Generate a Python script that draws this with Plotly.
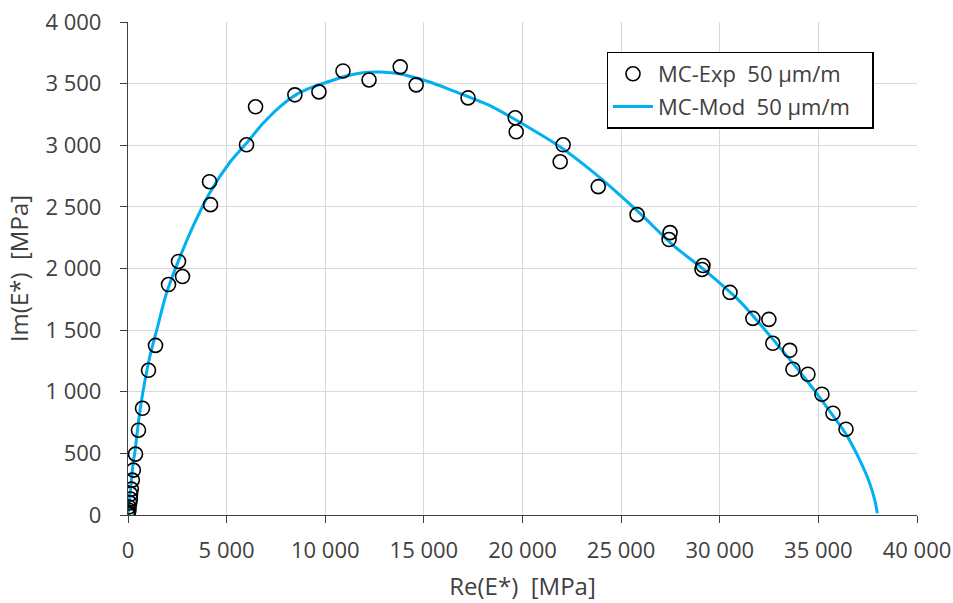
import plotly.graph_objects as go

# Experimental points (Re, Im) in MPa
exp_re = [5, 10, 20, 45, 50, 90, 120, 130, 170, 220, 270, 380, 532, 735, 1040, 1394,
          2054, 2561, 2764, 4133, 4184, 6009, 6466, 8460, 9680, 10900, 12220, 13800,
          14610, 17240, 19630, 19680, 21910, 22060, 23840, 25810, 27480, 27430, 29150,
          29100, 30520, 31680, 32490, 32690, 33550, 33710, 34470, 35180, 35740, 36400]
exp_im = [4, 10, 24, 40, 65, 97, 130, 170, 210, 283, 364, 494, 688, 866, 1174, 1376,
          1870, 2057, 1935, 2704, 2518, 3004, 3312, 3409, 3433, 3603, 3530, 3636,
          3490, 3384, 3223, 3109, 2866, 3004, 2664, 2437, 2291, 2235, 2024,
          1992, 1806, 1595, 1587, 1393, 1336, 1182, 1142, 980, 826, 696]

# Model curve (Re, Im) in MPa
mod_re = [0, 127, 279, 330, 619, 1090, 1496, 1937, 2612, 3372, 4133, 5147, 5994,
          6836, 7683, 8529, 9371, 10218, 11065, 11907, 12754, 13600, 14442, 15289,
          16136, 16978, 17824, 18499, 20020, 21882, 23570, 24924, 26105, 27627,
          29320, 31009, 32698, 34391, 35406, 36420, 37094, 37601, 37855, 37990]
mod_im = [0, 204, 447, 488, 861, 1274, 1525, 1793, 2084, 2368, 2611, 2858, 3014,
          3176, 3310, 3411, 3473, 3519, 3562, 3589, 3594, 3584, 3554, 3513,
          3464, 3411, 3357, 3310, 3172, 2990, 2784, 2598, 2425, 2190,
          1975, 1735, 1425, 1095, 879, 650, 447, 258, 123, 15]

FONT = "Open Sans"
TXT = "#404040"

fig = go.Figure()
fig.add_trace(go.Scatter(
    x=mod_re, y=mod_im, mode="lines",
    name="MC-Mod\u00a0\u00a050\u00a0µm/m\u00a0\u00a0\u00a0",
    line=dict(color="#00b0f0", width=3, shape="spline", smoothing=0.8),
    legendgroup="mod", legendrank=2))
fig.add_trace(go.Scatter(
    x=exp_re, y=exp_im, mode="markers",
    name="MC-Exp\u00a0\u00a050\u00a0µm/m\u00a0\u00a0\u00a0",
    marker=dict(symbol="circle-open", size=14, color="black", line=dict(width=1.6)),
    legendgroup="exp", legendrank=1))

axis_common = dict(
    showgrid=True, gridcolor="#d9d9d9", gridwidth=1.3,
    showline=True, linecolor="#404040", linewidth=1.3,
    ticks="outside", ticklen=7, tickcolor="#404040",
    tickfont=dict(family=FONT, size=22, color=TXT),
    zeroline=False, tickformat=",d", automargin=False,
)

fig.update_layout(
    width=953, height=603,
    margin=dict(l=128, r=36, t=22, b=88),
    paper_bgcolor="white", plot_bgcolor="white",
    separators=". ",
    font=dict(family=FONT, color=TXT),
    xaxis=dict(range=[0, 40000], dtick=5000, tick0=0, ticklabelstandoff=8,
               title=dict(text="Re(E*)\u00a0\u00a0[MPa]", font=dict(family=FONT, size=24, color=TXT), standoff=15),
               **axis_common),
    yaxis=dict(range=[0, 4000], dtick=500, tick0=0, ticklabelstandoff=14,
               title=dict(text="Im(E*)\u00a0\u00a0[MPa]", font=dict(family=FONT, size=24, color=TXT), standoff=10),
               **axis_common),
    legend=dict(x=0.6067, y=0.9398, xanchor="left", yanchor="top",
                bgcolor="white", bordercolor="black", borderwidth=1.3,
                font=dict(family=FONT, size=22, color=TXT),
                traceorder="grouped", tracegroupgap=1, itemwidth=40),
    showlegend=True,
)

# remove the default 8px page margin so the figure fills the window exactly
fig.write_html("out.html",
               config={"displayModeBar": False},
               post_script="document.body.style.margin='0';document.body.style.overflow='hidden';")
